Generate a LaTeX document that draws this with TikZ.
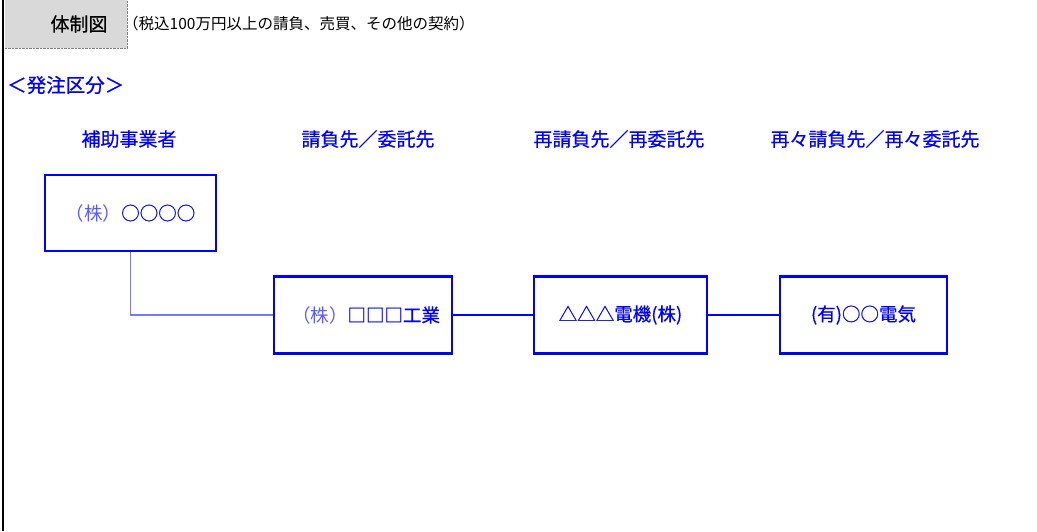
\documentclass[tikz,border=0pt]{standalone}
\usepackage{fontspec}
\setmainfont{Noto Sans CJK JP}
\newfontfamily\jpmed{Noto Sans CJK JP}[FakeBold=0.6]
\usepackage{xcolor}
\usepackage{tikz}
\usetikzlibrary{positioning}
\definecolor{lineblue}{RGB}{0, 0, 255}
\definecolor{paleblue}{RGB}{90, 90, 255}
\definecolor{linkblue}{RGB}{120, 120, 255}
\definecolor{cellgray}{RGB}{217, 217, 217}

\begin{document}
\begin{tikzpicture}[x=1pt,y=-1pt,
  head/.style={text=lineblue,font=\jpmed\fontsize{19}{22}\selectfont},
  firm/.style={draw=lineblue,line width=2.5pt,minimum height=77pt,inner sep=0pt,
    text=lineblue,font=\jpmed\fontsize{18.5}{21}\selectfont},
  link/.style={draw=lineblue,line width=1.8pt}]
  \useasboundingbox (0,0) rectangle (1037,531);
  % title cell and frame
  \draw[line width=2pt] (2.5,0) -- (2.5,531);
  \node[fill=cellgray,minimum width=122pt,minimum height=48pt,inner sep=0pt,
    font=\jpmed\fontsize{19}{22}\selectfont] (title) at (66,24) {\hspace*{26pt}体制図};
  \draw[densely dotted,gray] (title.south west) -- (title.south east) -- (title.north east);
  \node[anchor=west,font=\fontsize{15.5}{18}\selectfont,inner sep=0pt] (note) at (123,24)
    {（税込100万円以上の請負、売買、その他の契約）};
  \node[anchor=west,inner sep=0pt,text=lineblue,font=\jpmed\fontsize{19.5}{22}\selectfont] (kind) at (7,85)
    {＜発注区分＞};
  % column heads
  \node[head] (h1) at (129,139) {補助事業者};
  \node[head] (h2) at (368,139) {請負先／委託先};
  \node[head] (h3) at (619,139) {再請負先／再委託先};
  \node[head] (h4) at (875,139) {再々請負先／再々委託先};
  % firms
  \node[firm,minimum width=171pt,minimum height=76pt] (prime) at (130.5,213)
    {\textcolor{paleblue}{\normalfont\fontsize{18.5}{21}\selectfont（株）}○○○○};
  \node[firm,minimum width=178pt] (sub) at (363,315)
    {\hspace*{6pt}\textcolor{paleblue}{\normalfont\fontsize{18.5}{21}\selectfont（株）}□□□工業};
  \node[firm,minimum width=173pt] (resub) at (620.5,315) {△△△電機(株)};
  \node[firm,minimum width=167pt] (reresub) at (863.5,315) {(有)○○電気};
  % connectors
  \draw[linkblue,line width=1.2pt] (prime.south) |- (sub.west);
  \path[link]
    (sub) edge (resub)
    (resub) edge (reresub);
\end{tikzpicture}
\end{document}
